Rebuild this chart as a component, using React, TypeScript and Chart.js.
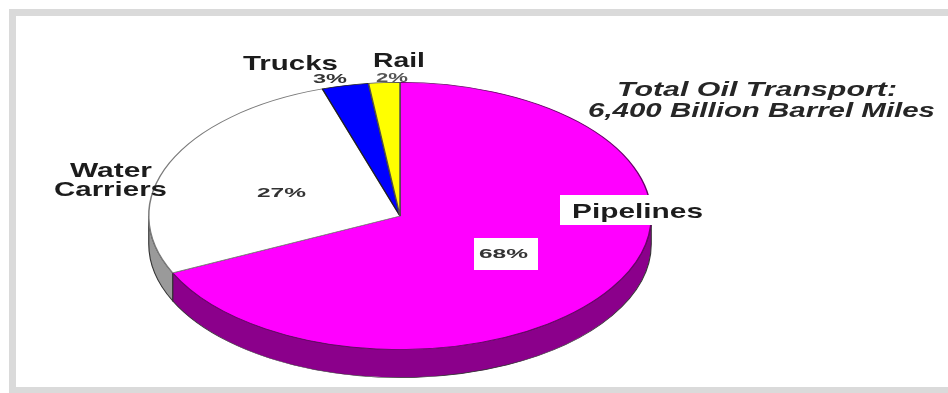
import React, { useEffect, useRef } from "react";
import { Chart, registerables } from "chart.js";

Chart.register(...registerables);

// ---- data ----
const categories = ["Pipelines", "Water Carriers", "Trucks", "Rail"];
const shares = [68, 27, 3, 2];
const percentLabels = shares.map((v) => v + "%");
const titleLines = ["Total Oil Transport:", "6,400 Billion Barrel Miles"];

// ---- styles ----
const topColors = ["#FF00FF", "#FFFFFF", "#0000FF", "#FFFF00"];
const sideColors = ["#8B008B", "#9a9a9a", "#00008B", "#999900"];
const edgeColors = ["#6a006a", "#7a7a7a", "#202020", "#505050"];

const W = 948;
const H = 393;
const CX = 400;
const CY = 216;
const RX = 252;
const RY = 134;
const DEPTH = 28;
const SX = RX / RY;

const pie3d = {
  id: "pie3d",
  beforeDatasetsDraw(chart: any) {
    const ctx = chart.ctx as CanvasRenderingContext2D;
    const meta = chart.getDatasetMeta(0);
    const first = meta.data[0] as any;
    const cx = first.x;
    const cy = first.y;
    ctx.save();
    ctx.translate(cx, cy);
    ctx.scale(SX, 1);
    ctx.translate(-cx, -cy);
    meta.data.forEach((el: any, i: number) => {
      const { startAngle, endAngle, outerRadius } = el.getProps(
        ["startAngle", "endAngle", "outerRadius"],
        true
      );
      const a = Math.max(startAngle, 0);
      const b = Math.min(endAngle, Math.PI);
      if (b <= a) return;
      ctx.beginPath();
      ctx.arc(cx, cy, outerRadius, a, b);
      ctx.arc(cx, cy + DEPTH, outerRadius, b, a, true);
      ctx.closePath();
      ctx.fillStyle = sideColors[i];
      ctx.fill();
      ctx.lineWidth = 0.6;
      ctx.strokeStyle = "#333";
      ctx.stroke();
    });
  },
  afterDatasetsDraw(chart: any) {
    chart.ctx.restore();
  },
};

function fitText(
  ctx: CanvasRenderingContext2D,
  text: string,
  left: number,
  right: number,
  baseline: number,
  font: string,
  color: string
) {
  ctx.save();
  ctx.font = font;
  ctx.textAlign = "left";
  ctx.textBaseline = "alphabetic";
  const w = ctx.measureText(text).width;
  ctx.translate(left, baseline);
  ctx.scale((right - left) / w, 1);
  ctx.fillStyle = color;
  ctx.fillText(text, 0, 0);
  ctx.restore();
}

const FAM = '"Liberation Sans", Arial, sans-serif';

const labelsPlugin = {
  id: "labels3d",
  afterDraw(chart: any) {
    const ctx = chart.ctx as CanvasRenderingContext2D;
    const big = `bold 21px ${FAM}`;
    const small = `bold 13px ${FAM}`;
    const ink = "#1c1c1c";
    const [water1, water2] = categories[1].split(" ");

    fitText(ctx, categories[2], 243, 338, 70, big, ink);
    fitText(ctx, percentLabels[2], 313, 347, 83, small, "#333");
    fitText(ctx, categories[3], 373, 425, 67, big, ink);
    fitText(ctx, percentLabels[3], 376, 408, 82, small, "#555");
    fitText(ctx, water1, 70, 152, 177, big, ink);
    fitText(ctx, water2, 54, 167, 196, big, ink);
    fitText(ctx, percentLabels[1], 257, 306, 197, small, "#333");

    ctx.fillStyle = "#FFFFFF";
    ctx.fillRect(560, 195, 152, 30);
    fitText(ctx, categories[0], 572, 703, 218, big, ink);

    ctx.fillRect(474, 238, 64, 32);
    fitText(ctx, percentLabels[0], 479, 528, 258, small, "#333");

    const ital = `italic bold 20px ${FAM}`;
    fitText(ctx, titleLines[0], 617, 897, 96, ital, "#262626");
    fitText(ctx, titleLines[1], 588, 935, 117, ital, "#262626");
  },
};

export default function App() {
  const ref = useRef<HTMLCanvasElement>(null);
  useEffect(() => {
    const chart = new Chart(ref.current as HTMLCanvasElement, {
      type: "pie",
      data: {
        labels: categories,
        datasets: [
          {
            data: shares,
            backgroundColor: topColors,
            borderColor: edgeColors,
            borderWidth: 0.8,
          },
        ],
      },
      options: {
        responsive: false,
        animation: false,
        devicePixelRatio: 1,
        layout: {
          padding: {
            top: CY - RY,
            bottom: H - (CY + RY),
            left: 0,
            right: W - 2 * CX,
          },
        },
        plugins: {
          legend: { display: false },
          tooltip: { enabled: false },
        },
      },
      plugins: [pie3d, labelsPlugin],
    } as any);
    return () => chart.destroy();
  }, []);

  return (
    <div
      style={{
        position: "fixed",
        left: 0,
        top: 0,
        width: W,
        height: H,
        background: "#ffffff",
        overflow: "hidden",
      }}
    >
      <div
        style={{
          position: "absolute",
          left: 9,
          top: 9,
          width: W,
          height: H - 9,
          boxSizing: "border-box",
          borderLeft: "7px solid #dadada",
          borderTop: "7px solid #dadada",
          borderBottom: "6px solid #dadada",
        }}
      />
      <canvas
        ref={ref}
        width={W}
        height={H}
        style={{ position: "absolute", left: 0, top: 0, width: W, height: H }}
      />
    </div>
  );
}
